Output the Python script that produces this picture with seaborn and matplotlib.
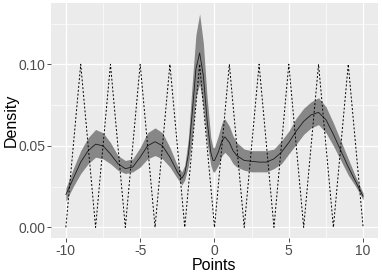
import numpy as np
import pandas as pd
import matplotlib
matplotlib.use("Agg")
import matplotlib.pyplot as plt
import seaborn as sns

# ── data ──
points = [-10, -9.5, -9, -8.5, -8, -7.5, -7, -6.5, -6, -5.5, -5, -4.5, -4, -3.5,
          -3, -2.5, -2.2, -2, -1.75, -1.5, -1.25, -1, -0.75, -0.5, -0.25, -0.1,
          0, 0.25, 0.5, 0.7, 1, 1.25, 1.5, 2, 2.5, 3, 3.5, 4, 4.5, 5, 5.5, 6,
          6.5, 7, 7.5, 8, 8.5, 9, 9.5, 10]
density = [0.020, 0.030, 0.040, 0.047, 0.051, 0.050, 0.045, 0.039, 0.036, 0.037,
           0.043, 0.050, 0.0525, 0.050, 0.043, 0.034, 0.030, 0.033, 0.045, 0.070,
           0.097, 0.107, 0.093, 0.066, 0.046, 0.041, 0.041, 0.046, 0.053, 0.0555,
           0.052, 0.047, 0.044, 0.041, 0.0405, 0.040, 0.040, 0.042, 0.046, 0.052,
           0.059, 0.065, 0.069, 0.0705, 0.066, 0.057, 0.047, 0.037, 0.028, 0.019]
lower = [0.016, 0.025, 0.033, 0.039, 0.043, 0.042, 0.039, 0.035, 0.033, 0.034,
         0.037, 0.042, 0.044, 0.042, 0.037, 0.030, 0.026, 0.029, 0.038, 0.055,
         0.080, 0.088, 0.074, 0.052, 0.038, 0.034, 0.034, 0.038, 0.044, 0.046,
         0.043, 0.039, 0.037, 0.035, 0.034, 0.034, 0.034, 0.036, 0.039, 0.045,
         0.051, 0.057, 0.061, 0.063, 0.058, 0.050, 0.041, 0.032, 0.025, 0.017]
upper = [0.024, 0.036, 0.047, 0.055, 0.060, 0.058, 0.052, 0.044, 0.041, 0.042,
         0.049, 0.058, 0.061, 0.058, 0.049, 0.038, 0.034, 0.038, 0.055, 0.088,
         0.118, 0.131, 0.113, 0.080, 0.055, 0.049, 0.049, 0.056, 0.064, 0.0665,
         0.062, 0.056, 0.052, 0.048, 0.047, 0.047, 0.047, 0.048, 0.053, 0.059,
         0.067, 0.073, 0.077, 0.0795, 0.074, 0.064, 0.053, 0.042, 0.031, 0.021]

zig_x = [-10, -9, -8, -7, -6, -5, -4, -3, -2, -1, 0, 1, 2, 3, 4, 5, 6, 7, 8, 9, 10]
zig_y = [0, 0.1, 0, 0.1, 0, 0.1, 0, 0.1, 0, 0.1, 0, 0.1, 0, 0.1, 0, 0.1, 0, 0.1, 0, 0.1, 0]

x_ticks = [-10, -5, 0, 5, 10]
x_labels = ["-10", "-5", "0", "5", "10"]
y_ticks = [0.0, 0.05, 0.10]
y_labels = ["0.00", "0.05", "0.10"]

# ── style (ggplot-ish) ──
sns.set_theme(style="darkgrid", rc={
    "axes.facecolor": "#EBEBEB",
    "grid.color": "white",
    "axes.edgecolor": "none",
})
plt.rcParams["font.family"] = ["Liberation Sans", "DejaVu Sans"]

curve = pd.DataFrame({"Points": points, "Density": density})
zig = pd.DataFrame({"Points": zig_x, "Density": zig_y})

fig = plt.figure(figsize=(3.82, 2.73), dpi=100)
ax = fig.add_axes([0.1335, 0.128, 0.856, 0.861])

ax.fill_between(points, lower, upper, color="#878787", linewidth=0, zorder=2)
sns.lineplot(data=curve, x="Points", y="Density", color="#1a1a1a", linewidth=0.6,
             ax=ax, zorder=3)
sns.lineplot(data=zig, x="Points", y="Density", color="black", linewidth=0.7,
             linestyle=(0, (2.0, 2.0)), ax=ax, zorder=4)

ax.set_xlim(-11, 11)
ax.set_ylim(-0.0066, 0.1376)

ax.set_xticks(x_ticks)
ax.set_xticklabels(x_labels)
ax.set_yticks(y_ticks)
ax.set_yticklabels(y_labels)
ax.set_xticks([-7.5, -2.5, 2.5, 7.5], minor=True)
ax.set_yticks([0.025, 0.075, 0.125], minor=True)
ax.grid(which="major", color="white", linewidth=0.9)
ax.grid(which="minor", color="white", linewidth=0.45)

ax.tick_params(axis="both", which="major", length=2.8, width=0.6, color="#333333",
               labelsize=10, labelcolor="#4D4D4D", pad=1.5, bottom=True, left=True)
ax.tick_params(axis="both", which="minor", length=0)

ax.set_xlabel("Points", fontsize=11.5, color="black", labelpad=0)
ax.set_ylabel("Density", fontsize=11.5, color="black")
ax.yaxis.set_label_coords(-0.098, 0.5)

for s in ax.spines.values():
    s.set_visible(False)

fig.savefig("out.png", dpi=100)
